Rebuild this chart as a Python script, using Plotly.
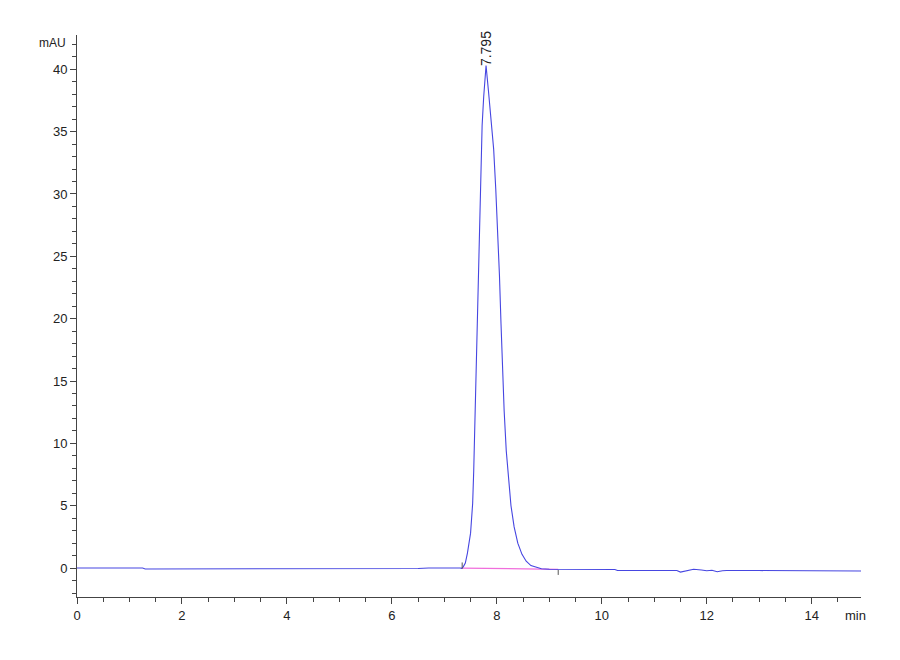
import plotly.graph_objects as go

# Chromatogram signal (time in min, absorbance in mAU)
time_min = [0, 1.25, 1.3, 2, 3, 4, 5, 5.5, 6, 6.5, 6.7, 7.0, 7.2, 7.3, 7.33,
            7.36, 7.40, 7.44, 7.50, 7.54, 7.56, 7.58, 7.60, 7.62, 7.64, 7.66,
            7.686, 7.72, 7.75, 7.795, 7.84, 7.88, 7.94, 7.98, 8.015,
            8.05, 8.08, 8.11, 8.14, 8.18, 8.22, 8.27, 8.33, 8.40, 8.48, 8.56,
            8.65, 8.75, 8.85,
            9.0, 9.5, 10.0, 10.25, 10.3, 11.0, 11.43, 11.5, 11.6, 11.75, 11.9,
            12.0, 12.1, 12.2, 12.3, 12.38, 13.0, 14.0, 14.94]
signal_mau = [0.0, 0.0, -0.08, -0.08, -0.08, -0.09, -0.08, -0.07, -0.06, -0.03, 0.0, 0.02, 0.03, 0.0, -0.02,
              0.1, 0.4, 1.2, 2.8, 5.2, 7.8, 11.2, 15.0, 19.0, 22.6, 26.0,
              31.0, 35.5, 37.8, 40.3, 38.3, 36.4, 33.6, 30.4, 27.4,
              23.5, 19.6, 15.8, 12.6, 9.4, 7.1, 5.0, 3.3, 2.0, 1.1, 0.55,
              0.2, 0.04, -0.06,
              -0.1, -0.12, -0.12, -0.12, -0.2, -0.2, -0.2, -0.32, -0.22, -0.1, -0.15,
              -0.22, -0.18, -0.3, -0.22, -0.2, -0.2, -0.22, -0.24]

# Integration baseline
base_t = [7.33, 9.17]
base_v = [0.0, -0.1]

# Integration event ticks
event_t = [7.34, 9.17]
event_lo = [-0.05, -0.15]
event_hi = [0.45, -0.55]

peak_time = 7.795
peak_height = 40.3
peak_label = "7.795"

x_range = [0, 14.94]
y_range = [-2.32, 42.75]
x_ticks = [0, 2, 4, 6, 8, 10, 12, 14]
y_ticks = [0, 5, 10, 15, 20, 25, 30, 35, 40]

fig = go.Figure()
fig.add_trace(go.Scatter(x=base_t, y=base_v, mode="lines",
                         line=dict(color="rgb(240,110,220)", width=1.2),
                         hoverinfo="skip", showlegend=False))
fig.add_trace(go.Scatter(x=time_min, y=signal_mau, mode="lines",
                         line=dict(color="rgb(70,70,225)", width=1.1),
                         showlegend=False))
for t, lo, hi in zip(event_t, event_lo, event_hi):
    fig.add_trace(go.Scatter(x=[t, t], y=[lo, hi], mode="lines",
                             line=dict(color="#555555", width=1),
                             hoverinfo="skip", showlegend=False))

fig.add_annotation(x=peak_time, y=peak_height, text=peak_label, textangle=-90,
                   showarrow=False, yanchor="bottom", xanchor="center",
                   yshift=-3, font=dict(family="Liberation Sans", size=14, color="#222222"))
fig.add_annotation(xref="paper", yref="y", x=0, y=42.1, text="mAU", showarrow=False,
                   xanchor="right", yanchor="middle", xshift=-9,
                   font=dict(family="Liberation Sans", size=12, color="#222222"))
fig.add_annotation(xref="paper", yref="paper", x=1, y=0, text="min", showarrow=False,
                   xanchor="center", yanchor="top", yshift=-9, xshift=-6,
                   font=dict(family="Liberation Sans", size=13, color="#222222"))

axis_common = dict(showgrid=False, zeroline=False, showline=True,
                   linecolor="#444444", linewidth=1, ticks="outside",
                   ticklen=6, tickcolor="#444444", tickwidth=1,
                   tickfont=dict(family="Liberation Sans", size=13, color="#222222"))

fig.update_xaxes(range=x_range, tickvals=x_ticks, **axis_common,
                 minor=dict(dtick=0.5, tick0=0, ticklen=4, ticks="outside",
                            tickcolor="#444444", showgrid=False))
fig.update_yaxes(range=y_range, tickvals=y_ticks, **axis_common,
                 minor=dict(dtick=1, tick0=0, ticklen=4, ticks="outside",
                            tickcolor="#444444", showgrid=False))

fig.update_layout(width=900, height=660, plot_bgcolor="white", paper_bgcolor="white",
                  margin=dict(l=69, r=47, t=27, b=71))
fig.write_html("out.html")
